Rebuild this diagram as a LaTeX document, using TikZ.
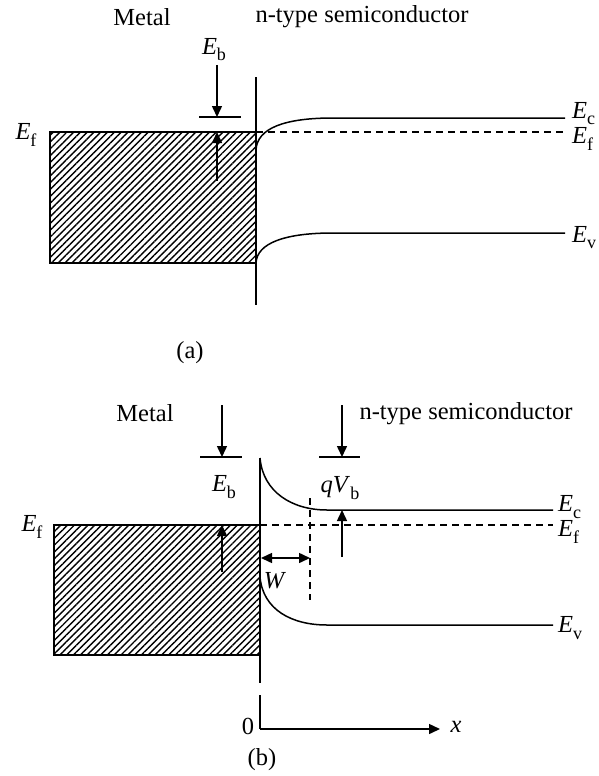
\documentclass[tikz,border=0pt]{standalone}
\usepackage{fontspec}
\setmainfont{Liberation Serif}
\usetikzlibrary{arrows.meta,patterns.meta}
\newcommand{\lblE}[2]{\textit{#1}\raisebox{-0.25em}{\fontsize{18}{18}\selectfont #2}}
\begin{document}
\begin{tikzpicture}[x=1pt,y=-1pt,
  every node/.style={font=\fontsize{24.5}{27}\selectfont, inner sep=0pt},
  ln/.style={line width=1.5pt},
  dsh/.style={line width=1.2pt, dash pattern=on 7pt off 5pt},
  arr/.style={line width=1.5pt, -{Triangle[length=11pt,width=10pt]}},
  darr/.style={line width=1.5pt, {Triangle[length=11pt,width=10pt]}-{Triangle[length=11pt,width=10pt]}},
  hatch/.style={pattern={Lines[angle=45,distance=4.8pt,line width=1.4pt]}}]
\useasboundingbox (0,0) rectangle (599,776);

% ---------- panel (a) ----------
\node (metalA) at (142,17) {Metal};
\node (ntypeA) at (362,17) {n-type semiconductor};
\node (EbA) at (214,50) {\lblE{E}{b}};
\coordinate (ebTopA) at (217,65);
\coordinate (ebBarA) at (217,117);
\coordinate (barLA) at (199,117);
\coordinate (barRA) at (241,117);
\draw[arr] (ebTopA) -- (ebBarA);
\draw[ln] (barLA) -- (barRA);
\coordinate (rectA1) at (50,132);
\coordinate (rectA2) at (256,263);
\draw[ln,hatch] (rectA1) rectangle (rectA2);
\coordinate (upA1) at (217,181);
\coordinate (upA2) at (217,132);
\draw[arr] (upA1) -- (upA2);
\node (EfLA) at (26,135) {\lblE{E}{f}};
\coordinate (ifTopA) at (256,77);
\coordinate (ifBotA) at (256,305);
\draw[ln] (ifTopA) -- (ifBotA);
\coordinate (efA1) at (256,132);
\coordinate (efA2) at (565,132);
\draw[dsh] (efA1) -- (efA2);
\coordinate (ecA0) at (256,150);
\coordinate (ecA1) at (333,118);
\coordinate (ecA2) at (565,118);
\draw[ln] (ecA0) .. controls (257,128) and (285,118) .. (ecA1) -- (ecA2);
\coordinate (evA0) at (256,263);
\coordinate (evA1) at (333,233);
\coordinate (evA2) at (565,233);
\draw[ln] (evA0) .. controls (257,243) and (285,233) .. (evA1) -- (evA2);
\node[anchor=west] (EcA) at (572,114) {\lblE{E}{c}};
\node[anchor=west] (EfRA) at (572,139) {\lblE{E}{f}};
\node[anchor=west] (EvA) at (572,238) {\lblE{E}{v}};
\node (capA) at (190,353) {(a)};

% ---------- panel (b) ----------
\node (metalB) at (145,413) {Metal};
\node (ntypeB) at (466,414) {n-type semiconductor};
\coordinate (ebTopB) at (222,405);
\coordinate (ebBarB) at (222,457);
\coordinate (barLB) at (200,457);
\coordinate (barRB) at (242,457);
\draw[arr] (ebTopB) -- (ebBarB);
\draw[ln] (barLB) -- (barRB);
\node (EbB) at (224,487) {\lblE{E}{b}};
\coordinate (rectB1) at (54,525);
\coordinate (rectB2) at (260,655);
\draw[ln,hatch] (rectB1) rectangle (rectB2);
\coordinate (upB1) at (222,572);
\coordinate (upB2) at (222,525);
\draw[arr] (upB1) -- (upB2);
\node (EfLB) at (32,527) {\lblE{E}{f}};
\coordinate (ifTopB) at (260,458);
\coordinate (ifBotB) at (260,683);
\draw[ln] (ifTopB) -- (ifBotB);
\coordinate (efB1) at (260,525);
\coordinate (efB2) at (553,525);
\draw[dsh] (efB1) -- (efB2);
\coordinate (ecB0) at (260,458);
\coordinate (ecB1) at (327,510);
\coordinate (ecB2) at (553,510);
\draw[ln] (ecB0) .. controls (263,492) and (292,510) .. (ecB1) -- (ecB2);
\coordinate (evB0) at (260,577);
\coordinate (evB1) at (327,625);
\coordinate (evB2) at (553,625);
\draw[ln] (evB0) .. controls (263,610) and (292,625) .. (evB1) -- (evB2);
\node[anchor=west] (EcB) at (558,507) {\lblE{E}{c}};
\node[anchor=west] (EfRB) at (558,532) {\lblE{E}{f}};
\node[anchor=west] (EvB) at (558,628) {\lblE{E}{v}};
% W
\coordinate (wL) at (261,558);
\coordinate (wR) at (310,558);
\draw[darr] (wL) -- (wR);
\node (Wlbl) at (275,581) {\textit{W}};
\coordinate (wdT) at (310,498);
\coordinate (wdB) at (310,600);
\draw[dsh] (wdT) -- (wdB);
% qVb
\coordinate (qTop) at (342,405);
\coordinate (qBar) at (342,457);
\coordinate (qBL) at (319,457);
\coordinate (qBR) at (360,457);
\draw[arr] (qTop) -- (qBar);
\draw[ln] (qBL) -- (qBR);
\node (qVb) at (340,488) {\textit{qV}\raisebox{-0.25em}{\fontsize{18}{18}\selectfont b}};
\coordinate (qUp1) at (342,557);
\coordinate (qUp2) at (342,510);
\draw[arr] (qUp1) -- (qUp2);
% axis
\coordinate (ax0) at (260,695);
\coordinate (axO) at (260,729);
\coordinate (axX) at (440,729);
\draw[ln] (ax0) -- (axO);
\draw[arr] (axO) -- (axX);
\node (zero) at (248,726) {0};
\node (xlbl) at (456,727) {\textit{x}};
\node (capB) at (262,760) {(b)};
\end{tikzpicture}
\end{document}
